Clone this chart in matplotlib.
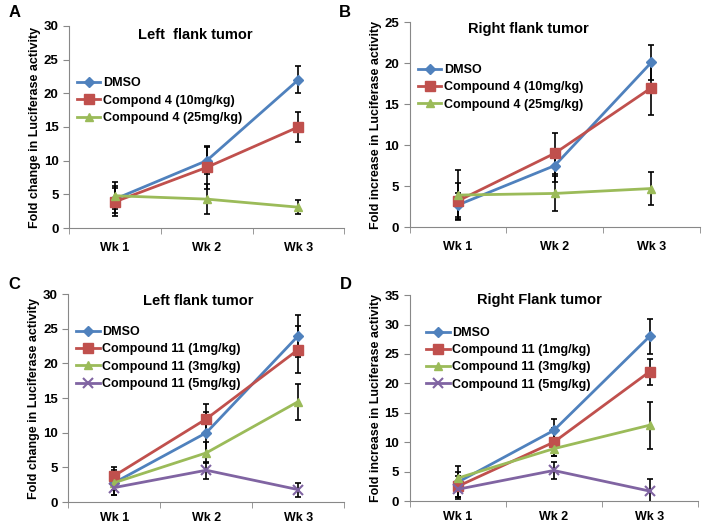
import matplotlib.pyplot as plt

weeks = ['Wk 1', 'Wk 2', 'Wk 3']

# panel A - left flank, compound 4
a_labels = ['DMSO', 'Compond 4 (10mg/kg)', 'Compound 4 (25mg/kg)']
a_vals = [[4.3, 10.0, 22.0], [3.9, 9.0, 15.0], [4.8, 4.3, 3.1]]
a_errs = [[2.0, 2.0, 2.0], [2.1, 3.2, 2.2], [2.0, 2.2, 1.0]]

# panel B - right flank, compound 4
b_labels = ['DMSO', 'Compound 4 (10mg/kg)', 'Compound 4 (25mg/kg)']
b_vals = [[2.7, 7.5, 20.1], [3.2, 9.0, 17.0], [3.9, 4.1, 4.7]]
b_errs = [[1.5, 2.0, 2.1], [2.2, 2.5, 3.3], [3.1, 2.1, 2.0]]

# panel C - left flank, compound 11
c_labels = ['DMSO', 'Compound 11 (1mg/kg)', 'Compound 11 (3mg/kg)', 'Compound 11 (5mg/kg)']
c_vals = [[2.8, 10.0, 24.0], [3.8, 12.0, 22.0], [2.8, 7.1, 14.5], [2.1, 4.6, 1.8]]
c_errs = [[1.8, 3.0, 3.0], [1.2, 2.2, 3.4], [1.0, 1.5, 2.6], [1.0, 1.2, 1.0]]

# panel D - right flank, compound 11
d_labels = ['DMSO', 'Compound 11 (1mg/kg)', 'Compound 11 (3mg/kg)', 'Compound 11 (5mg/kg)']
d_vals = [[3.2, 12.0, 28.0], [2.5, 10.0, 22.0], [3.9, 8.9, 12.9], [2.0, 5.2, 1.7]]
d_errs = [[2.8, 2.0, 3.0], [1.8, 2.4, 2.2], [1.0, 1.3, 4.0], [1.3, 1.5, 2.1]]

colors = ['#4F81BD', '#C0504D', '#9BBB59', '#8064A2']
markers = ['D', 's', '^', 'x']
msizes = [5, 7, 6, 7]

plt.rcParams['font.family'] = ['Liberation Sans', 'DejaVu Sans']
plt.rcParams['font.weight'] = 'bold'

fig = plt.figure(figsize=(7.04, 5.28), dpi=100)


def panel(rect, letter, lpos, title, tpos, labels, vals, errs, ymax, ystep, ylabel, legpos, xpad):
    ax = fig.add_axes(rect)
    x = [0, 1, 2]
    for i in range(len(labels)):
        ax.errorbar(x, vals[i], yerr=errs[i], fmt='none', ecolor='black',
                    elinewidth=1.2, capsize=2.5, capthick=1.2, zorder=2)
    for i in range(len(labels)):
        ax.plot(x, vals[i], color=colors[i], marker=markers[i], ms=msizes[i],
                lw=2, mew=1.5 if markers[i] == 'x' else 1, label=labels[i], zorder=3)
    ax.set_xlim(-0.5, 2.5)
    ax.set_ylim(0, ymax)
    ax.set_yticks(range(0, ymax + 1, ystep))
    ax.set_xticks(x)
    ax.set_xticklabels(weeks)
    ax.set_xticks([-0.5, 0.5, 1.5, 2.5], minor=True)
    ax.tick_params(axis='x', which='major', length=0, pad=xpad, labelsize=9)
    ax.tick_params(axis='x', which='minor', length=4, color='#888888', direction='out')
    ax.tick_params(axis='y', length=4, color='#888888', labelsize=9.5)
    for s in ['top', 'right']:
        ax.spines[s].set_visible(False)
    for s in ['left', 'bottom']:
        ax.spines[s].set_color('#888888')
    ax.set_ylabel(ylabel, fontsize=9, fontweight='bold', labelpad=2)
    ax.text(tpos[0], tpos[1], title, transform=ax.transAxes, ha='center', va='center',
            fontsize=10.5, fontweight='bold')
    ax.legend(loc='upper left', bbox_to_anchor=legpos, frameon=False, fontsize=9,
              handlelength=1.9, handletextpad=0.2, labelspacing=0.42, borderaxespad=0)
    fig.text(lpos[0], lpos[1], letter, fontsize=12, fontweight='bold',
             ha='center', va='center')
    return ax


panel([0.098, 0.568, 0.391, 0.383], 'A', (0.021, 0.977), 'Left  flank tumor', (0.46, 0.955),
      a_labels, a_vals, a_errs, 30, 5, 'Fold change in Luciferase activity', (0.01, 0.77), 10)
panel([0.582, 0.570, 0.412, 0.388], 'B', (0.490, 0.977), 'Right flank tumor', (0.41, 0.965),
      b_labels, b_vals, b_errs, 25, 5, 'Fold increase in Luciferase activity', (0.01, 0.82), 10)
panel([0.097, 0.049, 0.392, 0.394], 'C', (0.021, 0.462), 'Left flank tumor', (0.47, 0.966),
      c_labels, c_vals, c_errs, 30, 5, 'Fold change in Luciferase activity', (0.01, 0.87), 7)
panel([0.582, 0.051, 0.409, 0.390], 'D', (0.491, 0.462), 'Right Flank tumor', (0.45, 0.975),
      d_labels, d_vals, d_errs, 35, 5, 'Fold increase in Luciferase activity', (0.04, 0.87), 7)

fig.savefig('out.png', dpi=100)
